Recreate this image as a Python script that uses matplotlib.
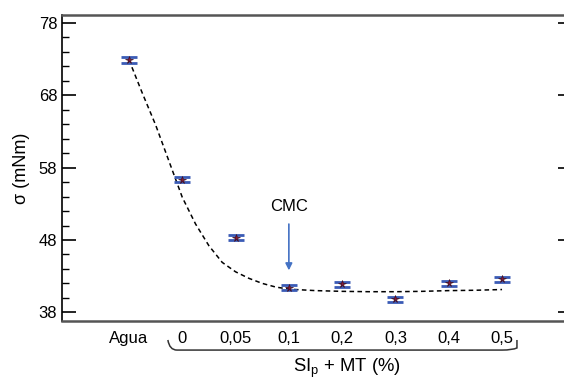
import numpy as np
import matplotlib
matplotlib.use('Agg')
import matplotlib.pyplot as plt
from matplotlib.path import Path
from matplotlib.patches import PathPatch

plt.rcParams['font.family'] = ['Liberation Sans', 'DejaVu Sans']
plt.rcParams['mathtext.fontset'] = 'custom'
plt.rcParams['mathtext.rm'] = 'Liberation Sans'

# data
labels = ['Agua', '0', '0,05', '0,1', '0,2', '0,3', '0,4', '0,5']
sigma = [72.9, 56.3, 48.3, 41.4, 41.9, 39.8, 42.0, 42.55]
err = [0.4, 0.35, 0.35, 0.35, 0.35, 0.35, 0.35, 0.35]

# dashed fit curve (category position, value)
fit_pos = [0, 0.25, 0.5, 0.75, 1.0, 1.25, 1.5, 1.75, 2.0, 2.25, 2.5, 2.75,
           3.0, 3.5, 4.0, 4.5, 5.0, 5.5, 6.0, 6.5, 7.0]
fit_val = [72.9, 68.3, 63.9, 58.9, 53.9, 50.2, 47.2, 44.9, 43.6, 42.7, 42.0, 41.5,
           41.2, 41.0, 40.9, 40.85, 40.85, 40.9, 41.0, 41.05, 41.15]

x = np.arange(len(labels))

fig = plt.figure(figsize=(5.64, 3.81), dpi=100)
ax = fig.add_axes([62/564, 1-321/381, 510/564, 306/381])

ax.plot(fit_pos, fit_val, color='black', ls=(0, (3, 2.2)), lw=1.1, zorder=2)
ax.errorbar(x, sigma, yerr=err, fmt='none', ecolor='#3a5bb5', elinewidth=1.2,
            capsize=6, capthick=2.0, zorder=3)
ax.plot(x, sigma, ls='none', marker='*', ms=5.5, color='#8a1538', mec='#401020',
        mew=0.5, zorder=4)

# CMC arrow
ax.annotate('', xy=(3, 43.8), xytext=(3, 50.2),
            arrowprops=dict(arrowstyle='-|>', color='#4472c4', lw=1.2,
                            mutation_scale=10, shrinkA=0, shrinkB=0))
ax.text(3, 52.6, 'CMC', ha='center', va='center', fontsize=12)

ax.set_xlim(-1.257, 8.313)
ax.set_ylim(36.8, 79.1)
ax.set_xticks(x)
ax.set_xticklabels(labels, fontsize=12)
ax.set_yticks([38, 48, 58, 68, 78])
ax.set_yticks(np.arange(38, 79, 2), minor=True)
ax.tick_params(axis='y', which='major', direction='in', length=10, width=1.2,
               labelsize=12, right=True, left=True)
ax.tick_params(axis='y', which='minor', direction='in', length=5, width=1.0,
               right=False)
ax.tick_params(axis='x', length=0, pad=7)

ax.spines['left'].set_color('black')
ax.spines['left'].set_linewidth(1.2)
for s in ['top', 'bottom']:
    ax.spines[s].set_color('#555555')
    ax.spines[s].set_linewidth(1.8)
ax.spines['right'].set_visible(False)

ax.set_ylabel('\u03c3 (mNm)', fontsize=13, labelpad=6)

# bracket under the SIp + MT labels
trans = ax.get_xaxis_transform()
verts = [(0.73, -0.062), (0.76, -0.095), (0.9, -0.095), (1.0, -0.095),
         (7.0, -0.095), (7.2, -0.095), (7.28, -0.088), (7.28, -0.062)]
codes = [Path.MOVETO, Path.CURVE3, Path.CURVE3, Path.LINETO,
         Path.LINETO, Path.CURVE3, Path.CURVE3, Path.LINETO]
ax.add_patch(PathPatch(Path(verts, codes), transform=trans, fill=False,
                       edgecolor='#333333', lw=1.1, clip_on=False))

ax.text(4.1, -0.155, r'SI$_\mathrm{p}$ + MT (%)', transform=trans,
        ha='center', va='center', fontsize=13.3)

fig.patch.set_linewidth(0)
plt.savefig('out.png', dpi=100, facecolor='white', edgecolor='none')
